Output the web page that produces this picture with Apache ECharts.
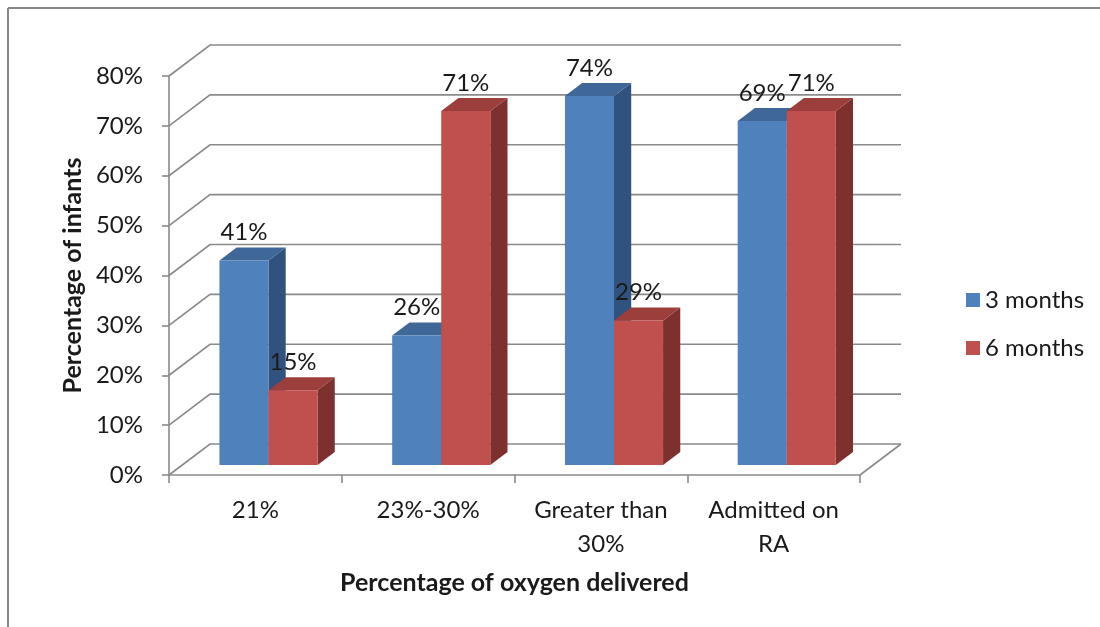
<!DOCTYPE html>
<html><head><meta charset="utf-8">
<script src="https://cdn.jsdelivr.net/npm/echarts@6/dist/echarts.min.js"></script>
<style>html,body{margin:0;padding:0;background:#fff}#c{width:1100px;height:627px}</style>
</head><body><div id="c"></div>
<script>
const categories = ['21%', '23%-30%', 'Greater than\n30%', 'Admitted on\nRA'];
const seriesNames = ['3 months', '6 months'];
const threeMonths = [0.41, 0.26, 0.74, 0.69];
const sixMonths = [0.15, 0.71, 0.29, 0.71];
const yTicks = [0, 0.1, 0.2, 0.3, 0.4, 0.5, 0.6, 0.7, 0.8];

const DEPTH = [41, -31];
const BAR_DEPTH_START = 0.32, BAR_DEPTH = 0.42, BAR_FRAC = 0.284;
const colors = [
  {front: '#4F81BD', top: '#3F6798', side: '#30527E'},
  {front: '#C0504D', top: '#9C3E3B', side: '#7D302E'}
];
const FONT = 'Lato';
const TXT = '#1a1a1a';
const GRID_COLOR = '#8a8a8a';

const chart = echarts.init(document.getElementById('c'), null, {renderer: 'canvas'});

function wallRender(params, api) {
  const cs = params.coordSys;
  const v = api.value(1);
  const y = api.coord([0, v])[1];
  const x0 = cs.x, xR = cs.x + cs.width;
  const children = [{
    type: 'polyline',
    shape: {points: [[x0, y], [x0 + DEPTH[0], y + DEPTH[1]], [xR + DEPTH[0], y + DEPTH[1]]]},
    style: {stroke: GRID_COLOR, lineWidth: 1.6, fill: null}
  }];
  if (v === 0) {
    children.push({type: 'line', shape: {x1: xR, y1: y, x2: xR + DEPTH[0], y2: y + DEPTH[1]},
      style: {stroke: GRID_COLOR, lineWidth: 1.6}});
  }
  return {type: 'group', children};
}

function barRender(s) {
  return function (params, api) {
    const ci = api.value(0), v = api.value(1);
    const top = api.coord([ci, v]), base = api.coord([ci, 0]);
    const band = api.size([1, 0])[0];
    const bw = band * BAR_FRAC;
    const sx = DEPTH[0] * BAR_DEPTH_START, sy = DEPTH[1] * BAR_DEPTH_START;
    const dx = DEPTH[0] * BAR_DEPTH, dy = DEPTH[1] * BAR_DEPTH;
    const xL = top[0] - bw + s * bw + sx, xR = xL + bw;
    const yT = top[1] + sy, yB = base[1] + sy;
    const c = colors[s];
    return {type: 'group', children: [
      {type: 'polygon', shape: {points: [[xR, yB], [xR + dx, yB + dy], [xR + dx, yT + dy], [xR, yT]]}, style: {fill: c.side}},
      {type: 'polygon', shape: {points: [[xL, yT], [xL + dx, yT + dy], [xR + dx, yT + dy], [xR, yT]]}, style: {fill: c.top}},
      {type: 'rect', shape: {x: xL, y: yT, width: bw, height: yB - yT}, style: {fill: c.front}},
      {type: 'text', z2: 100, x: (xL + xR) / 2, y: yT + dy - 3,
        style: {text: Math.round(v * 100) + '%', align: 'center', verticalAlign: 'bottom',
          font: '24px ' + FONT, fill: TXT}}
    ]};
  };
}

const option = {
  animation: false,
  backgroundColor: '#fff',
  graphic: [
    {type: 'line', shape: {x1: 8, y1: 8, x2: 1100, y2: 8}, style: {stroke: '#888', lineWidth: 2}},
    {type: 'line', shape: {x1: 8, y1: 8, x2: 8, y2: 627}, style: {stroke: '#888', lineWidth: 2}}
  ],
  grid: {left: 169, right: 1100 - 860, top: 76, bottom: 627 - 475, containLabel: false},
  legend: {
    data: seriesNames, orient: 'vertical', left: 961, top: 283,
    itemWidth: 14, itemHeight: 14, itemGap: 24, icon: 'rect',
    textStyle: {fontFamily: FONT, fontSize: 24, color: TXT}
  },
  xAxis: {
    type: 'category', data: categories,
    axisLine: {lineStyle: {color: GRID_COLOR, width: 1.6}},
    axisTick: {show: true, interval: 0, length: 8, lineStyle: {color: GRID_COLOR, width: 1.6}},
    axisLabel: {interval: 0, margin: 18, fontFamily: FONT, fontSize: 24, color: TXT, lineHeight: 34},
    name: 'Percentage of oxygen delivered', nameLocation: 'middle', nameGap: 95,
    nameTextStyle: {fontFamily: FONT, fontSize: 25, fontWeight: 'bold', color: TXT}
  },
  yAxis: {
    type: 'value', min: 0, max: 0.8, interval: 0.1,
    axisLine: {show: true, lineStyle: {color: GRID_COLOR, width: 1.6}},
    axisTick: {show: true, length: 7, lineStyle: {color: GRID_COLOR, width: 1.6}},
    splitLine: {show: false},
    axisLabel: {margin: 26, fontFamily: FONT, fontSize: 24, color: TXT,
      formatter: v => Math.round(v * 100) + '%'},
    name: 'Percentage of infants', nameLocation: 'middle', nameGap: 82,
    nameTextStyle: {fontFamily: FONT, fontSize: 25, fontWeight: 'bold', color: TXT}
  },
  series: [
    {type: 'custom', name: 'walls', z: 1, silent: true, renderItem: wallRender,
      data: yTicks.map(v => [0, v])},
    {type: 'custom', name: seriesNames[0], z: 2, renderItem: barRender(0),
      itemStyle: {color: colors[0].front},
      data: threeMonths.map((v, i) => [i, v])},
    {type: 'custom', name: seriesNames[1], z: 2, renderItem: barRender(1),
      itemStyle: {color: colors[1].front},
      data: sixMonths.map((v, i) => [i, v])}
  ]
};
chart.setOption(option);
</script>
</body></html>
